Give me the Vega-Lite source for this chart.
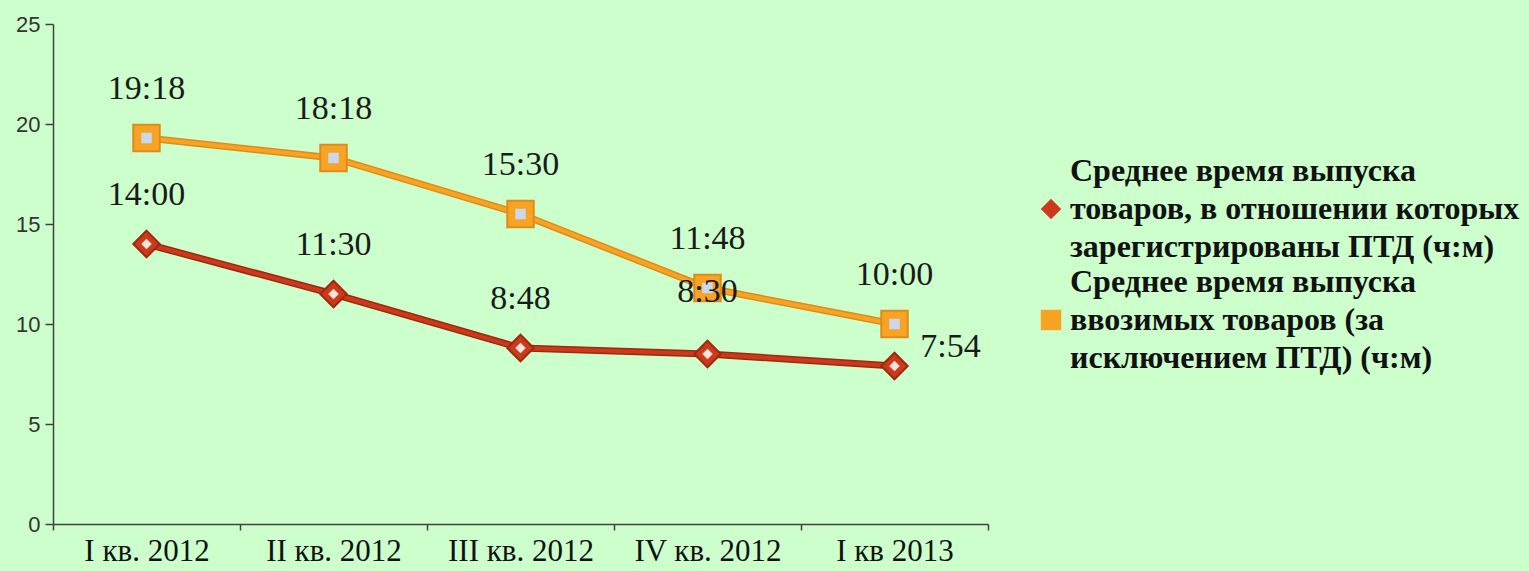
{
  "$schema": "https://vega.github.io/schema/vega-lite/v6.json",
  "width": 935,
  "height": 500,
  "autosize": {"type": "none"},
  "padding": {"left": 53, "top": 24, "right": 541, "bottom": 47},
  "background": "#ccffcc",
  "config": {
    "view": {"stroke": null},
    "axis": {"grid": false}
  },
  "data": {
    "values": [
      {"quarter": "I кв. 2012", "series": "A", "value": 14.0, "label": "14:00"},
      {"quarter": "II кв. 2012", "series": "A", "value": 11.5, "label": "11:30"},
      {"quarter": "III кв. 2012", "series": "A", "value": 8.8, "label": "8:48"},
      {"quarter": "IV кв. 2012", "series": "A", "value": 8.5, "label": "8:30"},
      {"quarter": "I кв 2013", "series": "A", "value": 7.9, "label": "7:54"},
      {"quarter": "I кв. 2012", "series": "B", "value": 19.3, "label": "19:18"},
      {"quarter": "II кв. 2012", "series": "B", "value": 18.3, "label": "18:18"},
      {"quarter": "III кв. 2012", "series": "B", "value": 15.5, "label": "15:30"},
      {"quarter": "IV кв. 2012", "series": "B", "value": 11.8, "label": "11:48"},
      {"quarter": "I кв 2013", "series": "B", "value": 10.0, "label": "10:00"}
    ]
  },
  "encoding": {
    "x": {
      "field": "quarter",
      "type": "ordinal",
      "sort": null,
      "scale": {"type": "band", "paddingInner": 0, "paddingOuter": 0},
      "axis": {
        "title": null,
        "labelAngle": 0,
        "tickBand": "extent",
        "domainColor": "#404040",
        "domainWidth": 1.5,
        "tickColor": "#404040",
        "tickWidth": 1.5,
        "tickSize": 6,
        "labelPadding": 6,
        "labelFont": "Liberation Serif",
        "labelFontSize": 31,
        "labelColor": "#111111",
        "labelBaseline": "top"
      }
    },
    "y": {
      "field": "value",
      "type": "quantitative",
      "scale": {"domain": [0, 25], "nice": false},
      "axis": {
        "title": null,
        "values": [0, 5, 10, 15, 20, 25],
        "domainColor": "#404040",
        "domainWidth": 1.5,
        "tickColor": "#404040",
        "tickWidth": 1.5,
        "tickSize": 8,
        "labelPadding": 5,
        "labelFont": "Liberation Sans",
        "labelFontSize": 22,
        "labelColor": "#333333"
      }
    }
  },
  "layer": [
    {
      "mark": {"type": "line", "strokeWidth": 7},
      "encoding": {
        "detail": {"field": "series"},
        "stroke": {
          "condition": {"test": "datum.series == 'A'", "value": "#a02810"},
          "value": "#e08a18"
        }
      }
    },
    {
      "mark": {"type": "line", "strokeWidth": 4},
      "encoding": {
        "color": {
          "field": "series",
          "scale": {"domain": ["A", "B"], "range": ["#cc3a1c", "#f7a424"]},
          "legend": {
            "orient": "none",
            "legendX": 982,
            "legendY": 169,
            "title": null,
            "padding": 0,
            "rowPadding": 3,
            "symbolSize": 420,
            "symbolStrokeWidth": 0,
            "labelFont": "Liberation Serif",
            "labelFontWeight": "bold",
            "labelFontSize": 32,
            "labelColor": "#111111",
            "labelLimit": 0,
            "labelOffset": 3,
            "labelExpr": "datum.label == 'A' ? ['Среднее время выпуска', 'товаров, в отношении которых', 'зарегистрированы ПТД (ч:м)'] : ['Среднее время выпуска', 'ввозимых товаров (за', 'исключением ПТД) (ч:м)']",
            "encode": {
              "labels": {
                "update": {
                  "lineHeight": {"value": 37.6},
                  "dy": {"value": -37.6}
                }
              }
            }
          }
        }
      }
    },
    {
      "mark": {"type": "point", "filled": true, "size": 700, "strokeWidth": 2, "opacity": 1},
      "encoding": {
        "color": {"field": "series"},
        "shape": {
          "field": "series",
          "scale": {"domain": ["A", "B"], "range": ["diamond", "square"]}
        },
        "stroke": {
          "condition": {"test": "datum.series == 'A'", "value": "#a02810"},
          "value": "#e08a18"
        }
      }
    },
    {
      "mark": {"type": "point", "filled": true, "size": 110, "opacity": 1},
      "encoding": {
        "shape": {
          "condition": {"test": "datum.series == 'A'", "value": "diamond"},
          "value": "square"
        },
        "fill": {
          "condition": {"test": "datum.series == 'A'", "value": "#fde4d8"},
          "value": "#cad8ee"
        }
      }
    },
    {
      "transform": [{"filter": "datum.label != '8:30' && datum.label != '7:54'"}],
      "mark": {"type": "text", "dy": -49, "font": "Liberation Serif", "fontSize": 34, "color": "#1a1a1a"},
      "encoding": {"text": {"field": "label"}}
    },
    {
      "transform": [{"filter": "datum.label == '8:30'"}],
      "mark": {"type": "text", "dy": -62, "font": "Liberation Serif", "fontSize": 34, "color": "#1a1a1a"},
      "encoding": {"text": {"field": "label"}}
    },
    {
      "transform": [{"filter": "datum.label == '7:54'"}],
      "mark": {"type": "text", "dx": 56, "dy": -19, "font": "Liberation Serif", "fontSize": 34, "color": "#1a1a1a"},
      "encoding": {"text": {"field": "label"}}
    }
  ]
}
